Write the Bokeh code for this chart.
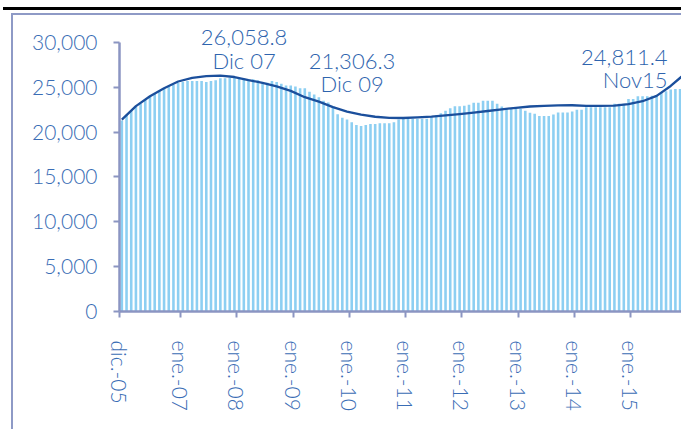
from bokeh.plotting import figure
from bokeh.models import (Range1d, FixedTicker, Label, NumeralTickFormatter,
                          InlineStyleSheet)
from bokeh.embed import file_html
from bokeh.resources import INLINE

# Monthly series, dic-05 (index 0) .. nov-15 (index 119), thousands
values_k = [
    21.3, 21.9, 22.4, 22.8, 23.2, 23.6, 24.0, 24.3, 24.6, 24.9, 25.1, 25.3,
    25.5, 25.6, 25.7, 25.7, 25.7, 25.7, 25.6, 25.7, 25.8, 26.0, 26.0, 26.05,
    26.0588, 26.0, 25.9, 25.9, 25.9, 25.8, 25.6, 25.5, 25.7, 25.6, 25.4, 25.2,
    25.2, 25.1, 24.9, 24.9, 24.5, 24.2, 23.9, 23.5, 23.3, 22.9, 22.0, 21.6,
    21.4, 21.1, 20.8, 20.7, 20.8, 20.9, 20.9, 21.0, 21.0, 21.0, 21.1, 21.4,
    21.5, 21.5, 21.5, 21.5, 21.5, 21.5, 21.75, 21.86, 22.1, 22.4, 22.66, 22.9,
    22.9, 22.95, 23.05, 23.27, 23.27, 23.5, 23.5, 23.5, 23.16, 22.86, 22.6, 22.6,
    22.6, 22.6, 22.4, 22.16, 22.05, 21.8, 21.8, 21.8, 21.97, 22.2, 22.2, 22.2,
    22.3, 22.5, 22.5, 22.78, 22.78, 22.78, 22.78, 22.78, 22.78, 23.16, 23.16, 23.16,
    23.7, 23.7, 24.0, 24.0, 24.0, 24.05, 24.15, 24.4, 24.55, 24.75, 24.8, 24.8114,
]
values = [v * 1000 for v in values_k]

# Trend line, sampled every 3 months (month index), thousands
trend_month = [0, 3, 6, 9, 12, 15, 18, 21, 24, 27, 30, 33, 36, 39, 42, 45, 48,
               51, 54, 57, 60, 63, 66, 69, 72, 75, 78, 81, 84, 87, 90, 93, 96,
               99, 102, 105, 108, 111, 114, 117, 120]
trend_k = [21.4, 22.9, 24.0, 24.9, 25.65, 26.05, 26.25, 26.3, 26.15, 25.8,
           25.5, 25.1, 24.6, 23.9, 23.4, 22.8, 22.3, 21.95, 21.72, 21.6,
           21.58, 21.64, 21.73, 21.87, 22.02, 22.18, 22.36, 22.54, 22.72,
           22.86, 22.94, 22.98, 23.0, 22.94, 22.93, 22.95, 23.12, 23.45,
           24.05, 25.15, 26.5]
trend = [v * 1000 for v in trend_k]

tick_months = [0, 13, 25, 37, 49, 61, 73, 85, 97, 109]
tick_labels = ["dic.-05", "ene.-07", "ene.-08", "ene.-09", "ene.-10",
               "ene.-11", "ene.-12", "ene.-13", "ene.-14", "ene.-15"]
y_ticks = [0, 5000, 10000, 15000, 20000, 25000, 30000]

ann_value = ["26,058.8", "21,306.3", "24,811.4"]
ann_date = ["Dic 07", "Dic 09", "Nov15"]

FONT = "Lato Light, Lato, sans-serif"
TXT = "#3A6DB5"
AXC = "#8B95C2"

css = """
:host::before {
  content: ""; position: absolute; left: 11px; top: 13px;
  width: calc(100% - 11px); height: calc(100% - 13px);
  border-left: 2px solid #8E9AC6; border-top: 2px solid #8E9AC6;
  box-sizing: border-box; z-index: 5; pointer-events: none;
}
:host::after {
  content: ""; position: absolute; left: 3px; top: 7px;
  width: calc(100% - 3px); height: 2.5px; background: #000;
  z-index: 5; pointer-events: none;
}
"""

p = figure(width=681, height=429, output_backend="svg", toolbar_location=None,
           x_range=Range1d(0, 119.8), y_range=Range1d(0, 34683),
           min_border_left=119, min_border_right=0, min_border_top=0,
           min_border_bottom=118, stylesheets=[InlineStyleSheet(css=css)])
p.background_fill_color = "white"
p.border_fill_color = "white"
p.outline_line_color = None
p.xgrid.visible = False
p.ygrid.visible = False

xs = [i + 0.5 for i in range(len(values))]
p.vbar(x=xs, top=values, width=0.55, bottom=0, fill_color="#8DCFF2",
       line_color=None)
p.line([m + 0.5 for m in trend_month], trend, line_color="#1B4F9C",
       line_width=2.3, line_join="round")

for ax in (p.xaxis[0], p.yaxis[0]):
    ax.axis_line_color = AXC
    ax.axis_line_width = 2.5
    ax.major_tick_line_color = AXC
    ax.major_tick_line_width = 2
    ax.major_tick_out = 6
    ax.major_tick_in = 0
    ax.minor_tick_line_color = None
    ax.major_label_text_color = TXT
    ax.major_label_text_font = FONT

p.xaxis.ticker = FixedTicker(ticks=tick_months)
p.xaxis.major_label_overrides = {m: l for m, l in zip(tick_months, tick_labels)}
p.xaxis.major_label_orientation = "vertical"
p.xaxis.major_label_text_font_size = "21px"
p.xaxis.major_label_standoff = 23

p.yaxis.ticker = FixedTicker(ticks=y_ticks)
p.yaxis.bounds = (0, 30000)
p.yaxis.formatter = NumeralTickFormatter(format="0,0")
p.yaxis.major_label_text_font_size = "21px"
p.yaxis.major_label_standoff = 16

ann_pos = [(26.55, "center", 30557, 27991),
           (49.57, "center", 27880, 25427),
           (116.84, "right", 28326, 25873)]
for (x, al, y1, y2), t1, t2 in zip(ann_pos, ann_value, ann_date):
    for t, y in ((t1, y1), (t2, y2)):
        p.add_layout(Label(x=x, y=y, text=t, text_align=al,
                           text_baseline="alphabetic", text_font=FONT,
                           text_font_size="22px", text_color="#2E64AE"))

open("out.html", "w").write(file_html(p, INLINE))
